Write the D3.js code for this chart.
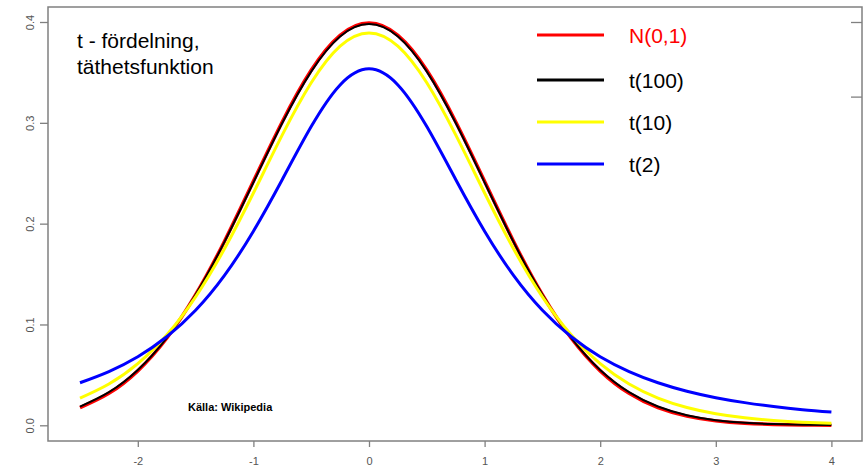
<!DOCTYPE html>
<html>
<head>
<meta charset="utf-8">
<script src="https://cdn.jsdelivr.net/npm/d3@7"></script>
<style>
  body { margin: 0; background: #fff; }
  text { font-family: "Liberation Sans", Arial, sans-serif; }
</style>
</head>
<body>
<div id="chart"></div>
<script>
// values, x from -2.5 to 4 in steps of 0.25
const xs = [-2.5, -2.25, -2, -1.75, -1.5, -1.25, -1, -0.75, -0.5, -0.25, 0,
    0.25, 0.5, 0.75, 1, 1.25, 1.5, 1.75, 2, 2.25, 2.5, 2.75, 3, 3.25, 3.5, 3.75, 4];
const normal = [0.0175, 0.0317, 0.0540, 0.0863, 0.1295, 0.1826, 0.2420, 0.3011, 0.3521, 0.3867, 0.3989,
    0.3867, 0.3521, 0.3011, 0.2420, 0.1826, 0.1295, 0.0863, 0.0540, 0.0317, 0.0175, 0.0091, 0.0044, 0.0020, 0.0009, 0.0004, 0.0001];
const t100 = [0.0186, 0.0329, 0.0549, 0.0867, 0.1294, 0.1819, 0.2408, 0.2998, 0.3508, 0.3856, 0.3979,
    0.3856, 0.3508, 0.2998, 0.2408, 0.1819, 0.1294, 0.0867, 0.0549, 0.0329, 0.0186, 0.0100, 0.0051, 0.0025, 0.0012, 0.0005, 0.0002];
const t10 = [0.0269, 0.0409, 0.0611, 0.0895, 0.1274, 0.1751, 0.2304, 0.2880, 0.3397, 0.3760, 0.3891,
    0.3760, 0.3397, 0.2880, 0.2304, 0.1751, 0.1274, 0.0895, 0.0611, 0.0409, 0.0269, 0.0176, 0.0114, 0.0074, 0.0048, 0.0031, 0.0020];
const t2 = [0.0422, 0.0533, 0.0680, 0.0878, 0.1141, 0.1487, 0.1925, 0.2438, 0.2963, 0.3376, 0.3536,
    0.3376, 0.2963, 0.2438, 0.1925, 0.1487, 0.1141, 0.0878, 0.0680, 0.0533, 0.0422, 0.0338, 0.0274, 0.0225, 0.0186, 0.0155, 0.0131];

const seriesNames = ["N(0,1)", "t(100)", "t(10)", "t(2)"];
const seriesValues = [normal, t100, t10, t2];
const colors = ["#ff0000", "#000000", "#ffff00", "#0000ff"];
const widths = [3.5, 2, 3, 3];

const xTicks = [-2, -1, 0, 1, 2, 3, 4];
const yTicks = [0, 0.1, 0.2, 0.3, 0.4];

const width = 867, height = 468;
const box = { left: 48, right: 862, top: 7, bottom: 441 };

const svg = d3.select("#chart").append("svg")
    .attr("width", width)
    .attr("height", height);

const x = d3.scaleLinear().domain([-2.5, 4]).range([80, 831.4]);
const y = d3.scaleLinear().domain([0, 0.4]).range([425.3, 22]);

// curves
const line = d3.line()
    .x(d => x(d[0]))
    .y(d => y(d[1]))
    .curve(d3.curveNatural);

seriesValues.forEach((vals, i) => {
    svg.append("path")
        .datum(xs.map((v, j) => [v, vals[j]]))
        .attr("fill", "none")
        .attr("stroke", colors[i])
        .attr("stroke-width", widths[i])
        .attr("d", line);
});

// frame
svg.append("rect")
    .attr("x", box.left)
    .attr("y", box.top)
    .attr("width", box.right - box.left)
    .attr("height", box.bottom - box.top)
    .attr("fill", "none")
    .attr("stroke", "#808080")
    .attr("stroke-width", 1.5);

const xAxis = svg.append("g")
    .attr("transform", `translate(0,${box.bottom})`)
    .call(d3.axisBottom(x).tickValues(xTicks).tickSize(6).tickPadding(10).tickFormat(d => String(d)));
xAxis.select(".domain").remove();

const yAxis = svg.append("g")
    .attr("transform", `translate(${box.left},0)`)
    .call(d3.axisLeft(y).tickValues(yTicks).tickSize(8).tickFormat(d3.format(".1f")));
yAxis.select(".domain").remove();
yAxis.selectAll("text")
    .attr("transform", "rotate(-90)")
    .attr("x", 0)
    .attr("y", -18)
    .attr("dy", "0.35em")
    .style("text-anchor", "middle");

[xAxis, yAxis].forEach(g => {
    g.selectAll("line").attr("stroke", "#808080").attr("stroke-width", 1.3);
    g.selectAll("text").attr("fill", "#555").style("font-size", "11px");
});

// small marks on the right edge
const rightAxis = svg.append("g")
    .attr("transform", `translate(${box.right},0)`)
    .call(d3.axisLeft(y).tickValues([0.4, 0.326]).tickSize(11).tickFormat(""));
rightAxis.select(".domain").remove();
rightAxis.selectAll("line").attr("stroke", "#808080").attr("stroke-width", 1.3);

// legend
const legendY = [35, 80, 122, 164];
const legend = svg.append("g");
seriesNames.forEach((name, i) => {
    legend.append("line")
        .attr("x1", 537).attr("x2", 604)
        .attr("y1", legendY[i]).attr("y2", legendY[i])
        .attr("stroke", colors[i])
        .attr("stroke-width", 3);
    legend.append("text")
        .attr("x", 629)
        .attr("y", legendY[i] + 8)
        .attr("fill", i === 0 ? "#ff0000" : "#000")
        .style("font-size", "21px")
        .text(name);
});

// title text
svg.append("text")
    .attr("x", 77).attr("y", 48)
    .style("font-size", "21px")
    .text("t - fördelning,");
svg.append("text")
    .attr("x", 77).attr("y", 74)
    .style("font-size", "21px")
    .text("täthetsfunktion");

svg.append("text")
    .attr("x", 188).attr("y", 411)
    .style("font-size", "11px")
    .style("font-weight", "bold")
    .text("Källa: Wikipedia");
</script>
</body>
</html>
